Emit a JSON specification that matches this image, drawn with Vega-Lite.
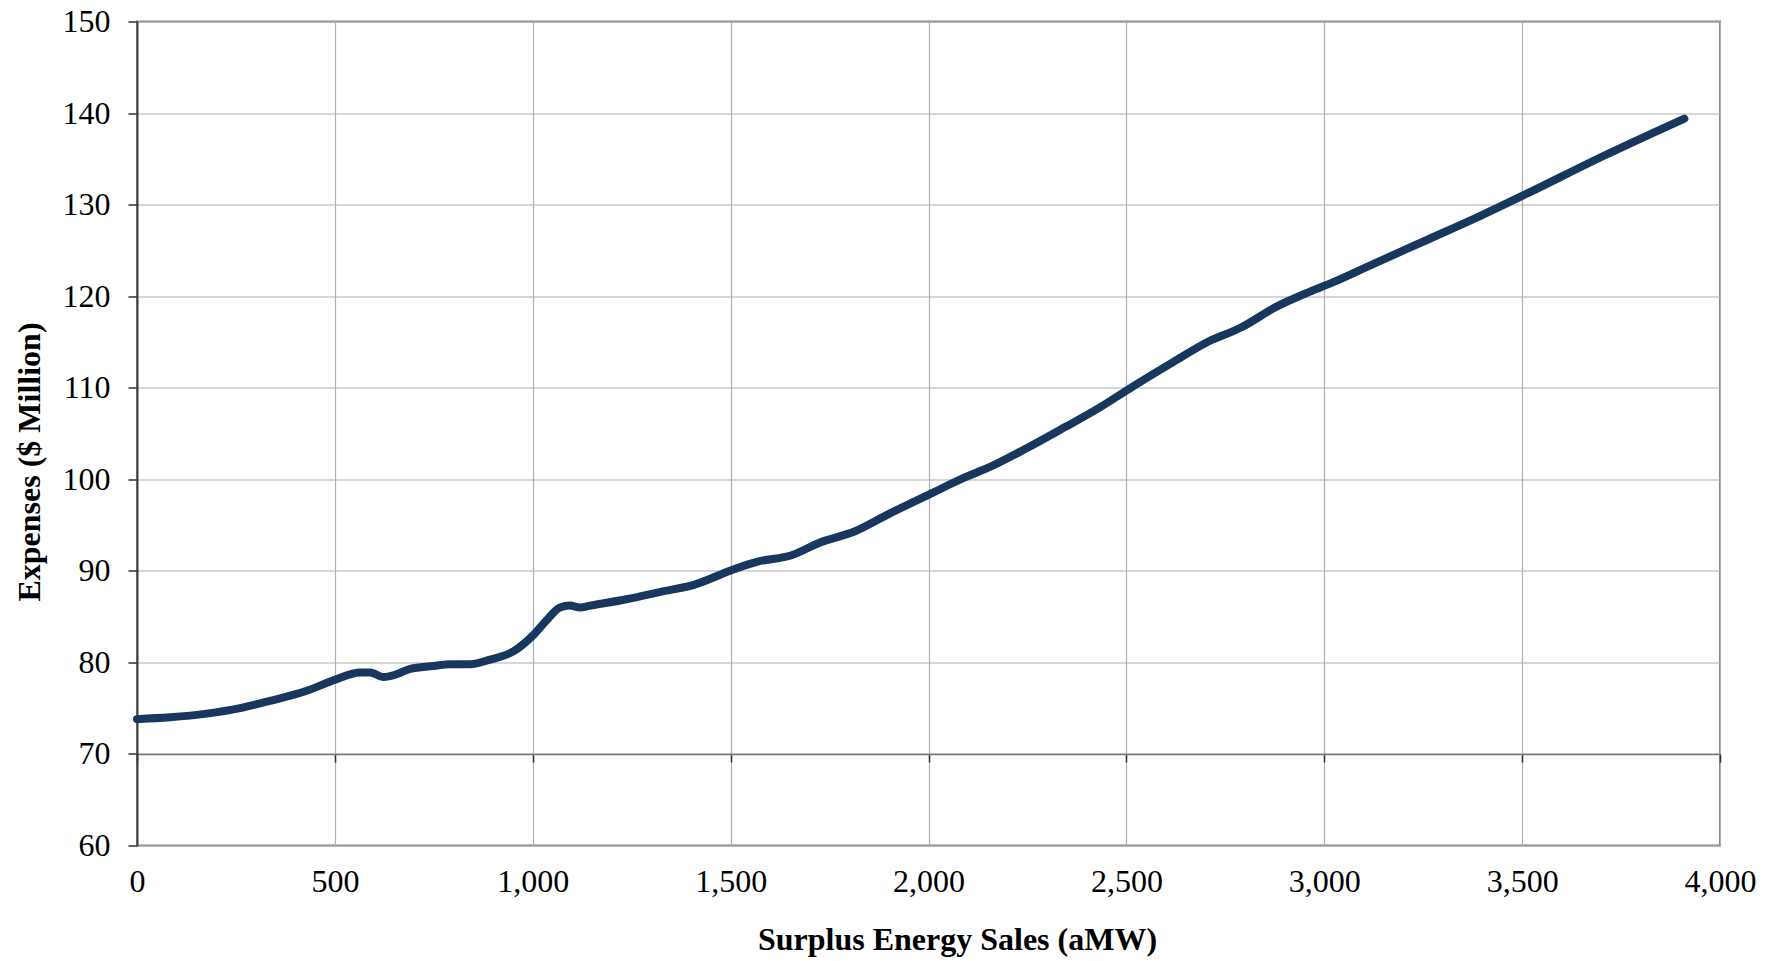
{
  "$schema": "https://vega.github.io/schema/vega-lite/v6.json",
  "description": "Expenses vs surplus energy sales",
  "autosize": {"type": "none"},
  "padding": {"left": 137, "top": 21.5, "right": 56, "bottom": 115.5},
  "width": 1583,
  "height": 824,
  "background": "white",
  "data": {
    "values": [
      {"sales": 0, "expenses": 73.8},
      {"sales": 83, "expenses": 74.0},
      {"sales": 176, "expenses": 74.4},
      {"sales": 260, "expenses": 75.0},
      {"sales": 336, "expenses": 75.8},
      {"sales": 429, "expenses": 76.9},
      {"sales": 500, "expenses": 78.1},
      {"sales": 564, "expenses": 78.9},
      {"sales": 589, "expenses": 78.9},
      {"sales": 623, "expenses": 78.4},
      {"sales": 656, "expenses": 78.7},
      {"sales": 690, "expenses": 79.3},
      {"sales": 749, "expenses": 79.6},
      {"sales": 791, "expenses": 79.8},
      {"sales": 842, "expenses": 79.8},
      {"sales": 892, "expenses": 80.3},
      {"sales": 951, "expenses": 81.2},
      {"sales": 1002, "expenses": 83.0},
      {"sales": 1035, "expenses": 84.6},
      {"sales": 1069, "expenses": 86.0},
      {"sales": 1094, "expenses": 86.2},
      {"sales": 1120, "expenses": 86.0},
      {"sales": 1145, "expenses": 86.2},
      {"sales": 1237, "expenses": 86.9},
      {"sales": 1323, "expenses": 87.7},
      {"sales": 1409, "expenses": 88.5},
      {"sales": 1510, "expenses": 90.2},
      {"sales": 1568, "expenses": 91.0},
      {"sales": 1654, "expenses": 91.7},
      {"sales": 1726, "expenses": 93.1},
      {"sales": 1813, "expenses": 94.3},
      {"sales": 1899, "expenses": 96.2},
      {"sales": 2014, "expenses": 98.6},
      {"sales": 2086, "expenses": 100.1},
      {"sales": 2158, "expenses": 101.4},
      {"sales": 2244, "expenses": 103.3},
      {"sales": 2345, "expenses": 105.7},
      {"sales": 2431, "expenses": 107.8},
      {"sales": 2515, "expenses": 110.1},
      {"sales": 2618, "expenses": 112.8},
      {"sales": 2705, "expenses": 115.0},
      {"sales": 2791, "expenses": 116.6},
      {"sales": 2877, "expenses": 118.8},
      {"sales": 2964, "expenses": 120.5},
      {"sales": 3021, "expenses": 121.5},
      {"sales": 3108, "expenses": 123.2},
      {"sales": 3252, "expenses": 126.0},
      {"sales": 3396, "expenses": 128.8},
      {"sales": 3517, "expenses": 131.3},
      {"sales": 3700, "expenses": 135.2},
      {"sales": 3910, "expenses": 139.4}
    ]
  },
  "layer": [
    {
      "mark": {"type": "line", "strokeOpacity": 0},
      "encoding": {
        "x": {
          "field": "sales",
          "type": "quantitative",
          "scale": {"domain": [0, 4000], "nice": false},
          "axis": {
            "orient": "bottom",
            "offset": -91.55,
            "values": [0, 500, 1000, 1500, 2000, 2500, 3000, 3500, 4000],
            "labels": false,
            "grid": false,
            "ticks": true,
            "tickSize": 8,
            "tickColor": "#303030",
            "tickWidth": 1.5,
            "domain": true,
            "domainColor": "#777777",
            "domainWidth": 1.5,
            "title": null
          }
        },
        "y": {
          "field": "expenses",
          "type": "quantitative",
          "scale": {"domain": [60, 150], "nice": false, "zero": false},
          "axis": null
        }
      }
    },
    {
      "mark": {
        "type": "line",
        "color": "#17375E",
        "strokeWidth": 8,
        "strokeCap": "round",
        "strokeJoin": "round",
        "interpolate": "monotone"
      },
      "encoding": {
        "x": {
          "field": "sales",
          "type": "quantitative",
          "scale": {"domain": [0, 4000], "nice": false},
          "axis": {
            "orient": "bottom",
            "values": [0, 500, 1000, 1500, 2000, 2500, 3000, 3500, 4000],
            "format": ",d",
            "grid": true,
            "ticks": false,
            "tickSize": 0,
            "domain": false,
            "labelFlush": false,
            "labelPadding": 21,
            "title": "Surplus Energy Sales (aMW)",
            "titlePadding": 27,
            "titleX": 820
          }
        },
        "y": {
          "field": "expenses",
          "type": "quantitative",
          "scale": {"domain": [60, 150], "nice": false, "zero": false},
          "axis": {
            "orient": "left",
            "values": [60, 70, 80, 90, 100, 110, 120, 130, 140, 150],
            "grid": true,
            "ticks": true,
            "tickSize": 9,
            "tickColor": "#303030",
            "tickWidth": 1.5,
            "domain": true,
            "domainColor": "#404040",
            "domainWidth": 2,
            "labelFlush": false,
            "labelPadding": 18,
            "title": "Expenses ($ Million)",
            "titlePadding": 16,
            "titleY": 440
          }
        }
      }
    }
  ],
  "resolve": {"axis": {"x": "independent", "y": "independent"}},
  "config": {
    "view": {"stroke": "#868686", "strokeWidth": 2},
    "axis": {
      "labelFont": "Liberation Serif",
      "labelFontSize": 32,
      "labelColor": "#000000",
      "titleFont": "Liberation Serif",
      "titleFontSize": 32,
      "titleFontWeight": "bold",
      "titleColor": "#000000",
      "gridColor": "#b0b0b0",
      "gridWidth": 1.2
    }
  }
}
